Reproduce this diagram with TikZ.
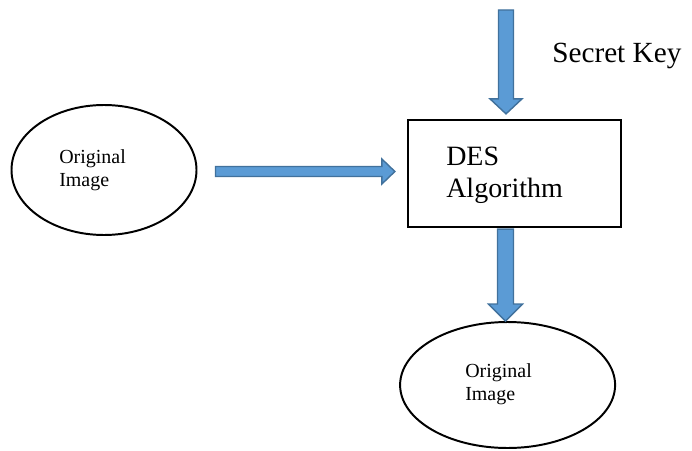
\documentclass[tikz,border=0pt]{standalone}
\usepackage{fontspec}
\setmainfont{Liberation Serif}
\usetikzlibrary{calc}
\usetikzlibrary{positioning,shapes.geometric}

\definecolor{arrowfill}{RGB}{91,155,213}
\definecolor{arrowline}{RGB}{65,113,156}

% block arrow: start, tip, half shaft width, half head width, head length
\newcommand{\blockarrow}[5]{%
  \coordinate (ba-p) at ($(#2)!#5!(#1)$);
  \filldraw[blockarrow] ($(#1)!#3!90:(#2)$) -- ($(ba-p)!#3!90:(#2)$) -- ($(ba-p)!#4!90:(#2)$) -- (#2)
    -- ($(ba-p)!#4!-90:(#2)$) -- ($(ba-p)!#3!-90:(#2)$) -- ($(#1)!#3!-90:(#2)$) -- cycle;
}

\tikzset{
  blockarrow/.style={fill=arrowfill,draw=arrowline,line width=1pt,line join=miter},
  imageell/.style={ellipse,draw,line width=1.4pt,inner sep=0pt},
  algobox/.style={rectangle,draw,line width=1.6pt,minimum width=5.325cm,minimum height=2.675cm},
  bigtext/.style={font=\fontsize{19.9}{22.8}\selectfont,align=left,inner sep=0pt},
  smalltext/.style={font=\fontsize{14.2}{16.4}\selectfont,align=left,inner sep=0pt}
}

\begin{document}
\begin{tikzpicture}

\useasboundingbox (0,0) rectangle (17.3,11.25);

\node[imageell,minimum width=4.625cm,minimum height=3.25cm] (orig) at (2.6,7.0) {};		% input image
\node[smalltext,anchor=west] (origtext) at ($(orig.center)+(-1.125,0)$) {Original\\Image};

\node[algobox] (des) at (12.8625,6.9125) {};									% DES box
\node[bigtext,anchor=west] (destext) at ($(des.center)+(-1.7125,-0.05)$) {DES\\Algorithm};

\node[imageell,minimum width=5.375cm,minimum height=3.15cm] (result) at (12.69,1.625) {};	% output image
\node[smalltext,anchor=west] (resulttext) at ($(result.center)+(-1.065,0.025)$) {Original\\Image};

\coordinate (keyin) at (12.65,11.0);											% key arrow start
\node[bigtext,font=\fontsize{20.8}{23.8}\selectfont,anchor=base west] (key) at (13.8,9.675) {Secret Key};

\coordinate (origout) at ($(orig.east)+(0.45,-0.0375)$);
\coordinate (desin) at ($(origout -| des.west)+(-0.3,0)$);
\coordinate (destop) at ($(keyin |- des.north)+(0,0.125)$);
\coordinate (algout) at ($(des.south)+(-0.225,-0.025)$);
\coordinate (resin) at (algout |- result.north);

\blockarrow{origout}{desin}{0.125cm}{0.3125cm}{0.325cm}						% image -> DES
\blockarrow{keyin}{destop}{0.1875cm}{0.4cm}{0.375cm}							% key -> DES
\blockarrow{algout}{resin}{0.2cm}{0.425cm}{0.425cm}							% DES -> image

\end{tikzpicture}
\end{document}
